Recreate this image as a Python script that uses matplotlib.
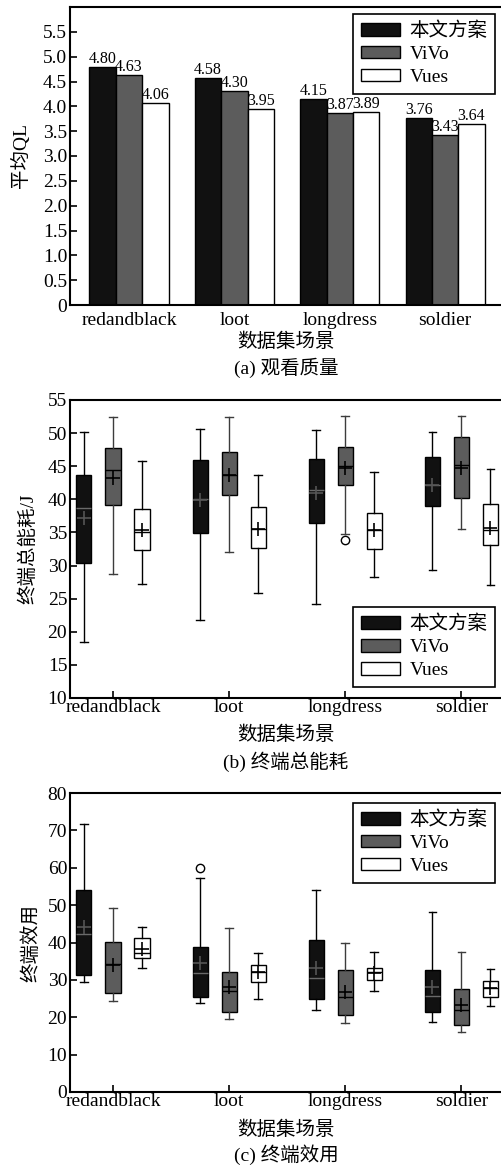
import matplotlib
matplotlib.use("Agg")
import matplotlib.pyplot as plt
import numpy as np

plt.rcParams['font.family'] = ['Liberation Serif', 'Noto Sans CJK SC']
plt.rcParams['axes.unicode_minus'] = False

scenes = ['redandblack', 'loot', 'longdress', 'soldier']
methods = ['本文方案', 'ViVo', 'Vues']
colors = ['#111111', '#5c5c5c', '#ffffff']

# (a) average QL
ql_ours = [4.80, 4.58, 4.15, 3.76]
ql_vivo = [4.63, 4.30, 3.87, 3.43]
ql_vues = [4.06, 3.95, 3.89, 3.64]

# box stats per scene: [whislo, q1, med, q3, whishi, mean]
energy_ours = [[18.4, 30.4, 38.7, 43.6, 50.1, 37.2],
               [21.8, 34.9, 40.0, 45.9, 50.6, 39.9],
               [24.2, 36.4, 41.4, 46.1, 50.4, 41.0],
               [29.4, 39.0, 42.2, 46.4, 50.1, 42.2]]
energy_vivo = [[28.8, 39.1, 44.4, 47.7, 52.5, 43.2],
               [32.0, 40.6, 43.6, 47.1, 52.5, 43.6],
               [34.8, 42.2, 45.0, 47.9, 52.6, 44.8],
               [35.5, 40.2, 45.2, 49.4, 52.6, 44.8]]
energy_vues = [[27.2, 32.3, 35.0, 38.6, 45.8, 35.4],
               [25.8, 32.6, 35.5, 38.8, 43.7, 35.5],
               [28.2, 32.5, 35.4, 37.9, 44.1, 35.4],
               [27.1, 33.1, 35.3, 39.3, 44.6, 35.6]]
energy_fliers_ours = [[], [], [], []]
energy_fliers_vivo = [[], [], [33.8], []]
energy_fliers_vues = [[], [], [], []]

utility_ours = [[29.5, 31.4, 42.3, 54.1, 71.8, 44.2],
                [23.9, 25.5, 31.9, 38.8, 57.2, 34.6],
                [21.9, 24.9, 30.5, 40.7, 54.0, 33.3],
                [18.8, 21.5, 25.6, 32.7, 48.2, 28.2]]
utility_vivo = [[24.4, 26.6, 34.2, 40.1, 49.2, 34.1],
                [19.5, 21.5, 27.0, 32.0, 43.9, 28.2],
                [18.4, 20.6, 25.5, 32.7, 40.0, 26.8],
                [16.0, 17.9, 21.9, 27.6, 37.5, 23.2]]
utility_vues = [[33.3, 35.9, 37.1, 41.2, 44.2, 38.2],
                [24.9, 29.5, 32.2, 34.1, 37.1, 32.2],
                [27.0, 29.9, 32.0, 33.3, 37.4, 31.9],
                [23.0, 25.3, 27.7, 29.7, 32.8, 27.7]]
utility_fliers_ours = [[], [59.9], [], []]
utility_fliers_vivo = [[], [], [], []]
utility_fliers_vues = [[], [], [], []]

W, H = 502, 1167
FS = 14
fig = plt.figure(figsize=(W / 100, H / 100), dpi=100)


def make_axes(top_px, bottom_px):
    ax = fig.add_axes([70 / W, 1 - bottom_px / H, 1 - 70 / W, (bottom_px - top_px) / H])
    for s in ax.spines.values():
        s.set_linewidth(1.5)
    ax.spines['right'].set_visible(False)
    ax.tick_params(direction='in', length=5, width=1.2, labelsize=FS, pad=3)
    ax.tick_params(axis='y', pad=2)
    return ax


def style_legend(ax, handles, **kw):
    leg = ax.legend(handles, methods, fontsize=FS, frameon=True, fancybox=False,
                    edgecolor='black', framealpha=1, borderaxespad=0,
                    handlelength=2.0, handleheight=0.6, labelspacing=0.3,
                    handletextpad=0.5, borderpad=0.4, **kw)
    leg.get_frame().set_linewidth(1.2)


def labels(ax, ylabel, ylab_px, xlab_y_px, cap_y_px, caption):
    ax.set_ylabel(ylabel, fontsize=FS)
    # label anchor is its right edge, ~10px from the glyph centre
    ax.yaxis.set_label_coords((ylab_px + 10 - 70) / 432, 0.5)
    fig.text(286 / W, 1 - xlab_y_px / H, '数据集场景', fontsize=FS, ha='center', va='center')
    fig.text(286 / W, 1 - cap_y_px / H, caption, fontsize=FS, ha='center', va='center')


# ---------- (a) ----------
ax1 = make_axes(7, 305)
x = np.arange(len(scenes))
w = 0.25
bars = []
for i, (vals, c) in enumerate(zip([ql_ours, ql_vivo, ql_vues], colors)):
    b = ax1.bar(x + (i - 1) * w, vals, w, color=c, edgecolor='black', linewidth=1)
    ax1.bar_label(b, fmt='%.2f', fontsize=11.5, padding=0)
    bars.append(b)
ax1.set_xlim(-0.56, 3.54)
ax1.set_ylim(0, 6)
ax1.set_yticks(np.arange(0, 5.51, 0.5))
ax1.set_yticklabels(['0'] + ['%.1f' % v for v in np.arange(0.5, 5.51, 0.5)])
ax1.set_xticks(x)
ax1.set_xticklabels(scenes)
ax1.tick_params(axis='x', length=0, pad=5)
style_legend(ax1, bars, loc='upper right', bbox_to_anchor=(0.984, 0.977))
labels(ax1, '平均QL', 20, 342, 368, '(a) 观看质量')


# ---------- box panels ----------
def box_panel(ax, groups, fliers, ylim, yticks):
    med_colors = ['#6a6a6a', 'black', 'black']
    line_colors = ['black', '#3c3c3c', 'black']
    mean_colors = ['#555555', 'black', 'black']
    handles = []
    for i, (g, fl) in enumerate(zip(groups, fliers)):
        stats = []
        for k, row in enumerate(g):
            lo, q1, med, q3, hi, mean = row
            stats.append(dict(whislo=lo, q1=q1, med=med, q3=q3, whishi=hi,
                              mean=mean, fliers=fl[k]))
        pos = x + (i - 1) * 0.25
        bp = ax.bxp(stats, positions=pos, widths=0.13, patch_artist=True,
                    showmeans=True, manage_ticks=False,
                    boxprops=dict(facecolor=colors[i], edgecolor='black', linewidth=1),
                    medianprops=dict(color=med_colors[i], linewidth=1),
                    whiskerprops=dict(color=line_colors[i], linewidth=1),
                    capprops=dict(color=line_colors[i], linewidth=1),
                    meanprops=dict(marker='+', markeredgecolor=mean_colors[i],
                                   markersize=10, markeredgewidth=1.2),
                    flierprops=dict(marker='o', markerfacecolor='white',
                                    markeredgecolor='black', markersize=6))
        handles.append(bp['boxes'][0])
    ax.set_xlim(-0.37, 3.35)
    ax.set_ylim(*ylim)
    ax.set_yticks(yticks)
    ax.set_xticks(x)
    ax.set_xticklabels(scenes)
    ax.tick_params(axis='x', pad=1)
    return handles


ax2 = make_axes(400, 698)
h2 = box_panel(ax2, [energy_ours, energy_vivo, energy_vues],
               [energy_fliers_ours, energy_fliers_vivo, energy_fliers_vues],
               (10, 55), np.arange(10, 56, 5))
style_legend(ax2, h2, loc='lower right', bbox_to_anchor=(0.984, 0.037))
labels(ax2, '终端总能耗/J', 27, 735, 762, '(b) 终端总能耗')

ax3 = make_axes(793, 1092)
h3 = box_panel(ax3, [utility_ours, utility_vivo, utility_vues],
               [utility_fliers_ours, utility_fliers_vivo, utility_fliers_vues],
               (0, 80), np.arange(0, 81, 10))
style_legend(ax3, h3, loc='upper right', bbox_to_anchor=(0.984, 0.967))
labels(ax3, '终端效用', 30, 1130, 1155, '(c) 终端效用')

fig.savefig('out.png', dpi=100, facecolor='white')
